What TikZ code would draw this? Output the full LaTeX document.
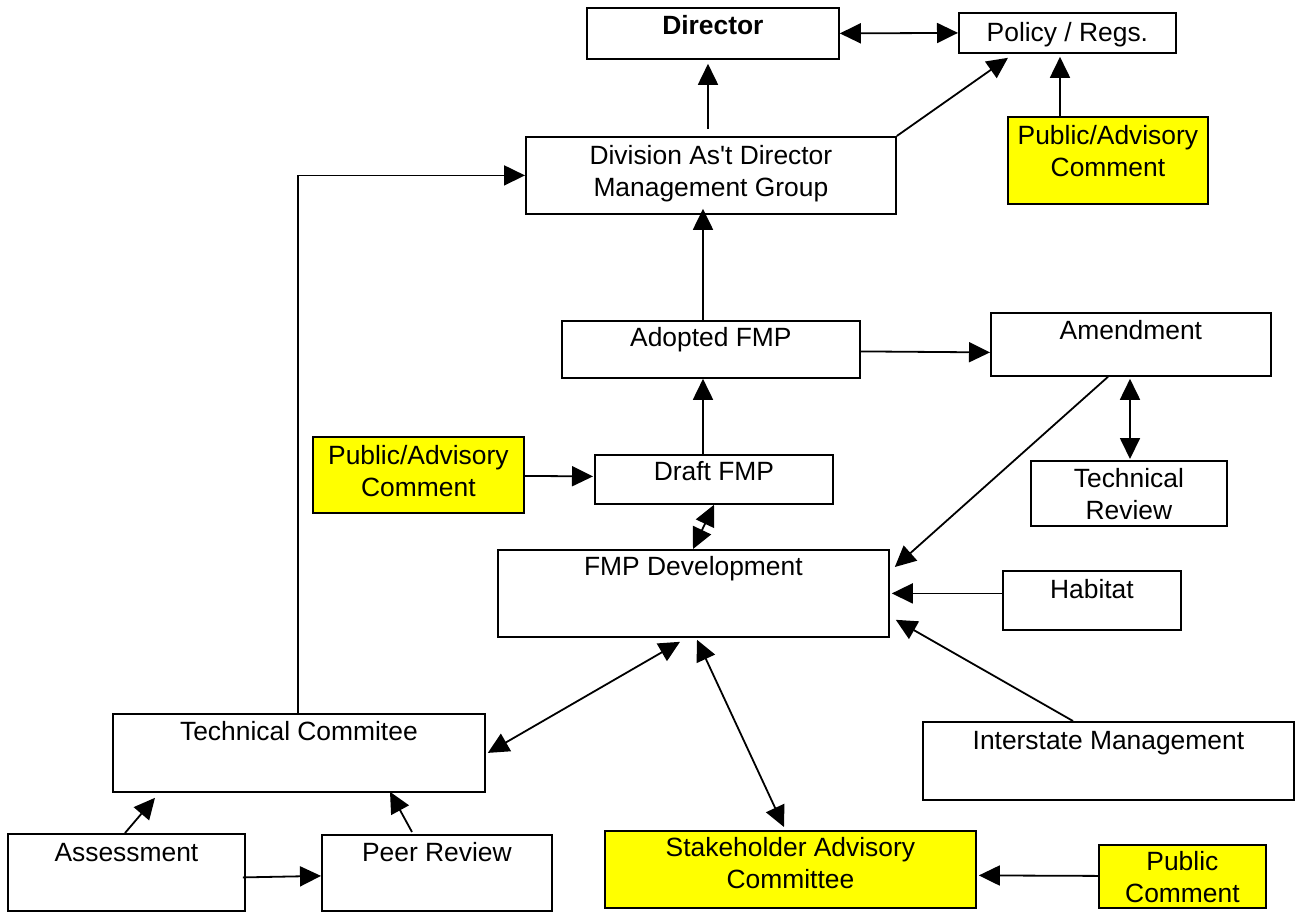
\documentclass[tikz,border=0pt]{standalone}
\usepackage{fontspec}
\setmainfont{Liberation Sans}
\usetikzlibrary{arrows.meta,calc}
\definecolor{yel}{RGB}{255,255,0}
\newcommand{\bt}[4]{\parbox[c][#2pt][t]{#1pt}{\centering\rule{0pt}{#3pt}#4}}
\newcommand{\sq}{{\XeTeXglyph\XeTeXglyphindex"quotesingle"\relax}}
\tikzset{
  box/.style={draw, line width=1.8pt, inner sep=0pt, anchor=north west, fill=white},
  ybox/.style={box, fill=yel},
  arr/.style={line width=1.8pt, -{Triangle[length=21pt,width=20pt]}},
  darr/.style={line width=1.8pt, {Triangle[length=21pt,width=20pt]}-{Triangle[length=21pt,width=20pt]}}
}
\begin{document}
\begin{tikzpicture}[x=1pt,y=-1pt,font=\fontsize{26.4}{32}\selectfont]
\useasboundingbox (0,0) rectangle (1299,914);
% boxes
\node[box]  (dir) at (586,7)    {\bt{252}{51}{27}{\textbf{Director}}};
\node[box]  (pol) at (958,12)   {\bt{217}{40}{29}{Policy / Regs.}};
\node[box]  (div) at (525,136)  {\bt{370}{77}{28}{Division As\sq t Director\\Management Group}};
\node[ybox] (pa1) at (1007,116) {\bt{200}{87}{28}{Public/Advisory\\Comment}};
\node[box]  (adp) at (561,320)  {\bt{298}{57}{26}{Adopted FMP}};
\node[box]  (amd) at (990,312)  {\bt{280}{63}{27}{Amendment}};
\node[ybox] (pa2) at (312,436)  {\bt{211}{76}{28}{Public/Advisory\\Comment}};
\node[box]  (drf) at (594,454)  {\bt{238}{49}{26}{Draft FMP}};
\node[box]  (trv) at (1030,460) {\bt{196}{65}{27}{Technical\\Review}};
\node[box]  (dev) at (497,549)  {\bt{391}{87}{26}{FMP Development}};
\node[box]  (hab) at (1002,570) {\bt{178}{59}{28}{Habitat}};
\node[box]  (tcm) at (112,713)  {\bt{372}{78}{27}{Technical Commitee}};
\node[box]  (ism) at (922,721)  {\bt{371}{78}{28}{Interstate Management}};
\node[box]  (ass) at (7,833)    {\bt{237}{77}{28}{Assessment}};
\node[box]  (prv) at (321,834)  {\bt{230}{76}{27}{Peer Review}};
\node[ybox] (sac) at (604,830)  {\bt{371}{77}{26}{Stakeholder Advisory\\Committee}};
\node[ybox] (pub) at (1098,844) {\bt{167}{63}{26}{Public\\Comment}};
% connectors
\draw[darr] (dir.east) -- (pol.west);
\draw[arr] ($(div.north west)+(183,-7)$) -- ($(dir.south west)+(122,4)$);
\draw[arr] (div.north east) -- ($(pol.south west)+(50,4)$);
\draw[arr] ($(pa1.north west)+(53,0)$) -- ($(pol.south west)+(102,3)$);
\draw[arr] ($(tcm.north west)+(186,0)$) |- (div.west);
\draw[arr] ($(adp.north west)+(142,0)$) -- ($(div.south west)+(178,-6)$);
\draw[arr] ($(adp.east)+(0,2)$) -- ($(amd.west)+(0,8)$);
\draw[arr] ($(drf.north west)+(109,0)$) -- ($(adp.south west)+(142,0)$);
\draw[arr] ($(pa2.east)+(0,1)$) -- ($(drf.west)+(-1,-3)$);
\draw[darr] ($(drf.south west)+(120,0)$) -- ($(dev.north west)+(196,0)$);
\draw[arr] ($(amd.south west)+(118,0)$) -- ($(dev.north east)+(5,18)$);
\draw[darr] ($(amd.south west)+(140,2)$) -- ($(trv.north west)+(100,-1)$);
\draw[arr] ($(hab.west)+(0,-7)$) -- ($(dev.east)+(2,0)$);
\draw[arr] ($(ism.north west)+(151,0)$) -- ($(dev.south east)+(6,-18)$);
\draw[darr] ($(dev.south west)+(183,4)$) -- ($(tcm.east)+(2,0)$);
\draw[darr] ($(dev.south west)+(200,2)$) -- ($(sac.north west)+(180,-3)$);
\draw[arr] ($(ass.north west)+(118,0)$) -- ($(tcm.south west)+(43,5)$);
\draw[arr] ($(prv.north west)+(91,-2)$) -- ($(tcm.south west)+(278,-1)$);
\draw[arr] ($(ass.east)+(-3,5)$) -- ($(prv.west)+(0,3)$);
\draw[arr] ($(pub.west)+(0,-0.5)$) -- ($(sac.east)+(2,6)$);
\end{tikzpicture}
\end{document}
